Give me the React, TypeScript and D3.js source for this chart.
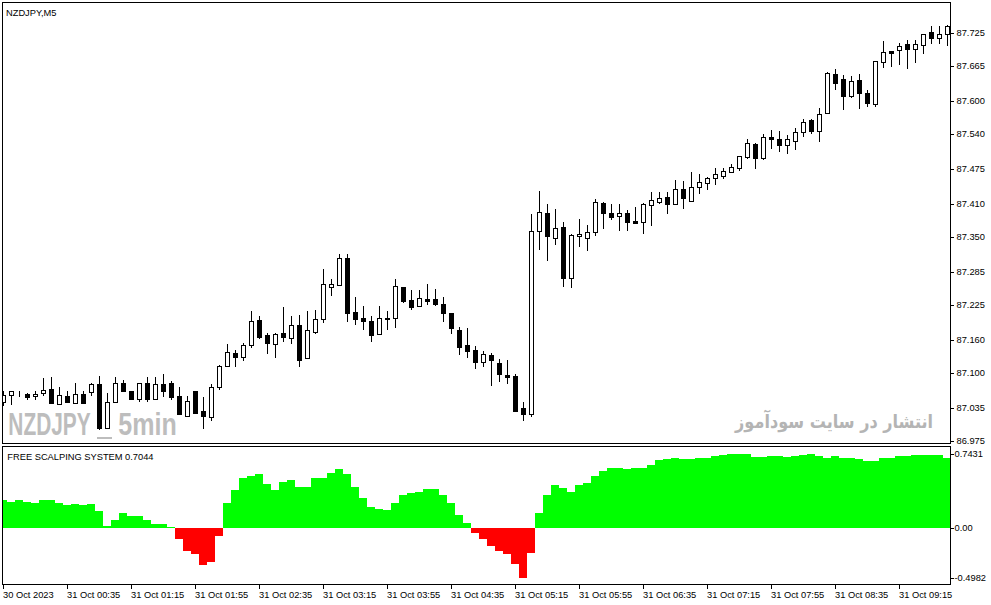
import { useLayoutEffect, useRef, useState } from "react";
import * as d3 from "d3";

// NZDJPY M5, one bar every 5 minutes, first bar 30 Oct 23:55
const timeLabels = [
  "30 Oct 2023", "31 Oct 00:35", "31 Oct 01:15", "31 Oct 01:55", "31 Oct 02:35",
  "31 Oct 03:15", "31 Oct 03:55", "31 Oct 04:35", "31 Oct 05:15", "31 Oct 05:55",
  "31 Oct 06:35", "31 Oct 07:15", "31 Oct 07:55", "31 Oct 08:35", "31 Oct 09:15",
];

const open = [
  87.046, 87.060, 87.066, 87.061, 87.058, 87.063, 87.070, 87.043, 87.058, 87.044,
  87.061, 87.065, 87.080, 86.998, 87.046, 87.081, 87.067, 87.052, 87.081, 87.053,
  87.080, 87.081, 87.058, 87.021, 87.067, 87.031, 87.019, 87.075, 87.113, 87.136,
  87.129, 87.152, 87.198, 87.170, 87.153, 87.173, 87.164, 87.188, 87.127, 87.176,
  87.199, 87.258, 87.261, 87.311, 87.212, 87.202, 87.196, 87.171, 87.202, 87.202,
  87.258, 87.234, 87.224, 87.236, 87.236, 87.227, 87.211, 87.179, 87.152, 87.142,
  87.120, 87.133, 87.118, 87.096, 87.094, 87.036, 87.024, 87.361, 87.394, 87.349,
  87.368, 87.275, 87.351, 87.349, 87.360, 87.412, 87.395, 87.389, 87.394, 87.379,
  87.377, 87.408, 87.415, 87.423, 87.410, 87.438, 87.417, 87.441, 87.449, 87.458,
  87.463, 87.469, 87.477, 87.497, 87.521, 87.495, 87.533, 87.531, 87.519, 87.527,
  87.543, 87.565, 87.544, 87.578, 87.650, 87.640, 87.609, 87.639, 87.614, 87.594,
  87.671, 87.692, 87.693, 87.704, 87.695, 87.703, 87.726, 87.715, 87.723,
];

const high = [
  87.066, 87.066, 87.066, 87.063, 87.066, 87.090, 87.092, 87.074, 87.066, 87.081,
  87.066, 87.081, 87.095, 87.063, 87.093, 87.087, 87.067, 87.081, 87.093, 87.093,
  87.098, 87.086, 87.075, 87.058, 87.067, 87.055, 87.080, 87.115, 87.153, 87.142,
  87.155, 87.214, 87.205, 87.173, 87.173, 87.222, 87.205, 87.207, 87.214, 87.216,
  87.291, 87.273, 87.318, 87.318, 87.239, 87.223, 87.205, 87.223, 87.214, 87.273,
  87.258, 87.253, 87.253, 87.264, 87.254, 87.239, 87.211, 87.184, 87.182, 87.150,
  87.141, 87.136, 87.125, 87.124, 87.099, 87.046, 87.392, 87.435, 87.411, 87.401,
  87.378, 87.356, 87.384, 87.372, 87.419, 87.415, 87.411, 87.411, 87.400, 87.405,
  87.413, 87.432, 87.432, 87.432, 87.455, 87.453, 87.469, 87.466, 87.461, 87.476,
  87.476, 87.484, 87.499, 87.530, 87.523, 87.539, 87.547, 87.545, 87.537, 87.550,
  87.567, 87.567, 87.587, 87.654, 87.659, 87.648, 87.646, 87.650, 87.620, 87.674,
  87.710, 87.692, 87.706, 87.712, 87.712, 87.724, 87.738, 87.737, 87.740,
];

const low = [
  87.041, 87.043, 87.057, 87.052, 87.052, 87.060, 87.044, 87.043, 87.047, 87.044,
  87.045, 87.060, 86.997, 86.998, 87.046, 87.066, 87.053, 87.049, 87.049, 87.053,
  87.057, 87.052, 87.025, 87.021, 87.027, 86.998, 87.014, 87.070, 87.113, 87.113,
  87.123, 87.148, 87.164, 87.136, 87.130, 87.158, 87.156, 87.113, 87.127, 87.174,
  87.193, 87.243, 87.261, 87.196, 87.190, 87.180, 87.159, 87.171, 87.180, 87.185,
  87.231, 87.218, 87.224, 87.227, 87.225, 87.196, 87.174, 87.135, 87.129, 87.110,
  87.113, 87.078, 87.086, 87.081, 87.031, 87.014, 87.021, 87.328, 87.308, 87.338,
  87.260, 87.259, 87.334, 87.327, 87.354, 87.367, 87.383, 87.362, 87.363, 87.375,
  87.358, 87.372, 87.413, 87.395, 87.410, 87.404, 87.417, 87.430, 87.438, 87.447,
  87.458, 87.469, 87.474, 87.495, 87.477, 87.493, 87.513, 87.509, 87.504, 87.511,
  87.536, 87.541, 87.527, 87.578, 87.622, 87.585, 87.608, 87.588, 87.590, 87.591,
  87.663, 87.665, 87.668, 87.661, 87.672, 87.688, 87.707, 87.706, 87.703,
];

const close = [
  87.060, 87.066, 87.066, 87.055, 87.061, 87.069, 87.044, 87.060, 87.047, 87.061,
  87.045, 87.080, 86.998, 87.046, 87.081, 87.066, 87.053, 87.081, 87.053, 87.080,
  87.066, 87.055, 87.025, 87.049, 87.027, 87.021, 87.075, 87.113, 87.138, 87.130,
  87.152, 87.196, 87.167, 87.156, 87.171, 87.167, 87.188, 87.123, 87.179, 87.199,
  87.263, 87.263, 87.311, 87.210, 87.199, 87.196, 87.169, 87.201, 87.199, 87.260,
  87.232, 87.222, 87.237, 87.233, 87.227, 87.211, 87.183, 87.148, 87.141, 87.121,
  87.135, 87.123, 87.098, 87.093, 87.031, 87.024, 87.361, 87.396, 87.351, 87.366,
  87.275, 87.354, 87.355, 87.359, 87.414, 87.395, 87.387, 87.395, 87.378, 87.376,
  87.410, 87.418, 87.421, 87.411, 87.438, 87.421, 87.441, 87.451, 87.458, 87.465,
  87.471, 87.478, 87.498, 87.522, 87.495, 87.533, 87.530, 87.520, 87.530, 87.543,
  87.561, 87.544, 87.576, 87.652, 87.634, 87.610, 87.637, 87.615, 87.596, 87.674,
  87.690, 87.689, 87.701, 87.695, 87.705, 87.723, 87.715, 87.724, 87.737,
];

// FREE SCALPING SYSTEM histogram
const signal = [
  0.28, 0.26, 0.28, 0.26, 0.25, 0.28, 0.28, 0.25, 0.23, 0.24,
  0.23, 0.24, 0.17, 0.02, 0.08, 0.15, 0.12, 0.12, 0.08, 0.04,
  0.04, 0.01, -0.11, -0.23, -0.26, -0.37, -0.34, -0.08, 0.25, 0.38,
  0.50, 0.52, 0.54, 0.44, 0.38, 0.46, 0.48, 0.41, 0.41, 0.50,
  0.50, 0.55, 0.59, 0.54, 0.41, 0.30, 0.21, 0.19, 0.18, 0.25,
  0.33, 0.35, 0.36, 0.39, 0.39, 0.33, 0.25, 0.13, 0.05, -0.05,
  -0.11, -0.18, -0.23, -0.26, -0.36, -0.4982, -0.25, 0.15, 0.33, 0.43,
  0.40, 0.36, 0.43, 0.45, 0.52, 0.57, 0.60, 0.60, 0.59, 0.60,
  0.60, 0.63, 0.68, 0.69, 0.70, 0.69, 0.69, 0.70, 0.70, 0.72,
  0.73, 0.74, 0.7431, 0.74, 0.71, 0.71, 0.72, 0.72, 0.71, 0.72,
  0.73, 0.74, 0.72, 0.70, 0.72, 0.70, 0.70, 0.69, 0.67, 0.67,
  0.70, 0.70, 0.72, 0.72, 0.73, 0.73, 0.73, 0.73, 0.7044,
];

const priceTicks = [87.725, 87.665, 87.6, 87.54, 87.475, 87.41, 87.35, 87.285, 87.225, 87.16, 87.1, 87.035, 86.975];
const signalTicks = [0.7431, 0, -0.4982];
const signalTickLabels = ["0.7431", "0.00", "-0.4982"];

const FONT = "'Liberation Sans', Arial, sans-serif";

export default function App() {
  const width = 991;
  const height = 605;
  const left = 2;
  const right = 950;
  const mainTop = 2;
  const mainBottom = 443;
  const subTop = 446;
  const subBottom = 584;

  // squeeze the persian watermark to the width it has in the picture
  const faRef = useRef<SVGTextElement>(null);
  const [faScale, setFaScale] = useState(1);
  useLayoutEffect(() => {
    const w = faRef.current?.getComputedTextLength() ?? 0;
    if (w > 0) setFaScale(198 / w);
  }, []);

  const idx = d3.range(open.length);
  const x = d3.scaleBand<number>().domain(idx).range([-0.7, 951.3]).padding(0);
  const cx = (i: number) => Math.round((x(i) ?? 0) + x.bandwidth() / 2);

  const y = d3.scaleLinear().domain([86.975, 87.725]).range([441, 33]);
  const ys = d3.scaleLinear().domain([-0.4982, 0.7431]).range([577.7, 453.7]);
  const zero = Math.round(ys(0));

  return (
    <svg
      width={width}
      height={height}
      style={{ position: "absolute", left: 0, top: 0, background: "#fff" }}
      fontFamily={FONT}
    >
      <defs>
        <clipPath id="mainClip">
          <rect x={left + 1} y={mainTop + 1} width={right - left - 1} height={mainBottom - mainTop - 1} />
        </clipPath>
        <clipPath id="subClip">
          <rect x={left + 1} y={subTop + 1} width={right - left - 1} height={subBottom - subTop - 1} />
        </clipPath>
      </defs>

      <rect width={width} height={height} fill="#fff" />

      {/* watermarks, squeezed like the narrow bold face of the original */}
      <g fill="#bdbdbd" fontWeight="bold" fontSize="31.5">
        <text transform="translate(8.3,435.3) scale(0.663,1)">NZDJPY</text>
        <rect x={97} y={437} width={15} height={2} stroke="none" />
        <text transform="translate(118.3,435.3) scale(0.795,1)">5min</text>
      </g>
      <text
        ref={faRef}
        transform={`translate(933,428) scale(${faScale},1)`}
        fill="#b4b4b4"
        fontWeight="bold"
        fontSize="19"
        fontFamily="'DejaVu Sans', sans-serif"
        textAnchor="end"
      >
        انتشار در سایت سودآموز
      </text>

      {/* candles */}
      <g clipPath="url(#mainClip)" shapeRendering="crispEdges">
        {idx.map((i) => {
          const c = cx(i);
          const up = close[i] >= open[i];
          const top = Math.round(y(Math.max(open[i], close[i])));
          const bot = Math.round(y(Math.min(open[i], close[i])));
          const hi = Math.round(y(high[i]));
          const lo = Math.round(y(low[i]));
          return (
            <g key={i}>
              <line x1={c + 0.5} x2={c + 0.5} y1={hi} y2={lo + 1} stroke="#000" />
              <rect
                x={c - 1.5}
                y={top + 0.5}
                width={4}
                height={Math.max(0, bot - top)}
                fill={up ? "#fff" : "#000"}
                stroke="#000"
              />
            </g>
          );
        })}
      </g>

      {/* indicator histogram */}
      <g clipPath="url(#subClip)" shapeRendering="crispEdges">
        {idx.map((i) => {
          const v = signal[i];
          const yy = Math.round(ys(v));
          return (
            <rect
              key={i}
              x={Math.round(x(i) ?? 0)}
              y={Math.min(yy, zero)}
              width={Math.round(x.bandwidth())}
              height={Math.abs(yy - zero)}
              fill={v >= 0 ? "#00ff00" : "#ff0000"}
            />
          );
        })}
      </g>

      {/* frames */}
      <g fill="none" stroke="#000" shapeRendering="crispEdges">
        <rect x={left + 0.5} y={mainTop + 0.5} width={right - left} height={mainBottom - mainTop} />
        <rect x={left + 0.5} y={subTop + 0.5} width={right - left} height={subBottom - subTop} />
      </g>

      {/* labels */}
      <text x={6} y={15.5} fontSize="9.3" fill="#000">NZDJPY,M5</text>
      <text x={7.3} y={459.5} fontSize="9.3" fill="#000">FREE SCALPING SYSTEM 0.7044</text>

      {/* price axis */}
      <g fontSize="9.3" fill="#000">
        {priceTicks.map((t, k) => {
          const yy = Math.round(y(t));
          return (
            <g key={k}>
              <line x1={right} x2={right + 4} y1={yy + 0.5} y2={yy + 0.5} stroke="#000" shapeRendering="crispEdges" />
              <text x={956.5} y={yy} dy="0.35em">{t.toFixed(3)}</text>
            </g>
          );
        })}
      </g>

      {/* indicator axis */}
      <g fontSize="9.3" fill="#000">
        {signalTicks.map((t, k) => {
          const yy = Math.round(ys(t));
          return (
            <g key={k}>
              <line x1={right} x2={right + 4} y1={yy + 0.5} y2={yy + 0.5} stroke="#000" shapeRendering="crispEdges" />
              <text x={954.5} y={yy} dy="0.35em">{signalTickLabels[k]}</text>
            </g>
          );
        })}
      </g>

      {/* time axis */}
      <g fontSize="9.3" fill="#000">
        {timeLabels.map((t, k) => {
          const c = cx(k * 8);
          return (
            <g key={k}>
              <line x1={c + 0.5} x2={c + 0.5} y1={subBottom} y2={subBottom + 5} stroke="#000" shapeRendering="crispEdges" />
              <text x={c} y={597.5}>{t}</text>
            </g>
          );
        })}
      </g>
    </svg>
  );
}
